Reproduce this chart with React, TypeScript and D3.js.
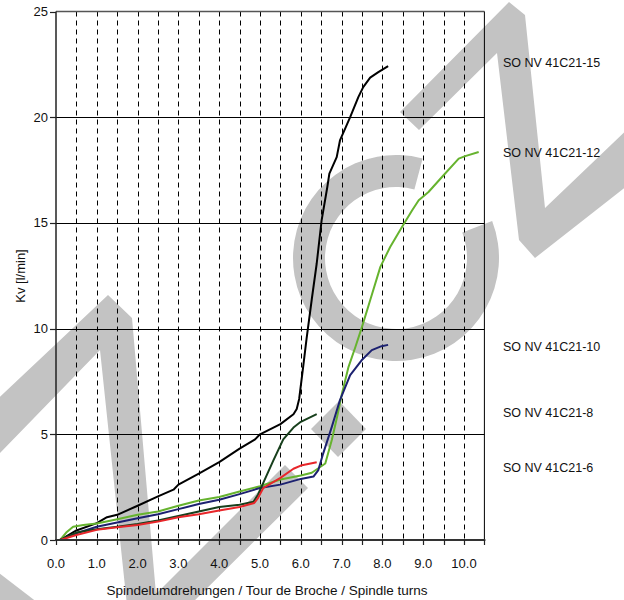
import React from "react";
import * as d3 from "d3";

type Pt = [number, number];

const seriesNames = ["SO NV 41C21-15", "SO NV 41C21-12", "SO NV 41C21-10", "SO NV 41C21-8", "SO NV 41C21-6"];
const seriesColors = ["#000000", "#66b32e", "#1c2170", "#173f1c", "#e8262a"];

const s15: Pt[] = [
  [0.1, 0], [0.5, 0.45], [1.0, 0.8], [1.25, 1.08], [1.5, 1.19], [2.0, 1.62], [2.5, 2.06], [2.88, 2.38],
  [3.0, 2.62], [3.5, 3.14], [4.0, 3.68], [4.5, 4.32], [4.88, 4.76], [5.0, 5.0], [5.5, 5.48], [5.82, 5.95],
  [5.9, 6.2], [5.96, 6.67], [6.06, 8.23], [6.14, 9.5], [6.27, 11.4], [6.39, 13.08], [6.51, 15.12],
  [6.65, 16.7], [6.7, 17.33], [6.88, 18.11], [6.96, 18.9], [7.21, 20.0], [7.41, 20.95], [7.53, 21.42],
  [7.7, 21.87], [7.9, 22.13], [8.14, 22.42],
];
const s12: Pt[] = [
  [0.1, 0], [0.25, 0.35], [0.42, 0.63], [0.67, 0.71], [1.0, 0.78], [1.5, 0.98], [2.0, 1.19], [2.5, 1.35],
  [3.0, 1.62], [3.5, 1.87], [4.0, 2.03], [4.5, 2.29], [5.0, 2.54], [5.5, 2.86], [6.0, 3.05], [6.27, 3.18],
  [6.6, 3.62], [6.76, 4.73], [6.89, 5.83], [7.01, 6.93], [7.17, 8.19], [7.34, 9.14], [7.5, 10.08],
  [7.7, 11.34], [7.95, 12.92], [8.19, 13.86], [8.48, 14.81], [8.73, 15.6], [8.89, 16.07], [9.13, 16.46],
  [9.46, 17.17], [9.87, 18.04], [10.03, 18.16], [10.36, 18.35],
];
const s10: Pt[] = [
  [0.1, 0], [0.5, 0.32], [1.0, 0.63], [1.5, 0.83], [2.0, 1.03], [2.5, 1.22], [3.0, 1.46], [3.5, 1.7],
  [4.0, 1.9], [4.5, 2.17], [5.0, 2.46], [5.5, 2.62], [6.0, 2.89], [6.31, 3.0], [6.43, 3.31], [6.55, 4.1],
  [6.76, 5.35], [6.96, 6.62], [7.21, 7.8], [7.49, 8.5], [7.74, 8.98], [7.98, 9.17], [8.14, 9.23],
];
const s8: Pt[] = [
  [0.1, 0], [0.5, 0.35], [1.0, 0.51], [1.5, 0.63], [2.0, 0.76], [2.5, 0.92], [3.0, 1.14], [3.5, 1.35],
  [4.0, 1.56], [4.5, 1.67], [4.84, 1.81], [4.95, 2.14], [5.08, 2.7], [5.32, 3.73], [5.57, 4.76],
  [5.82, 5.32], [6.0, 5.59], [6.39, 5.95],
];
const s6: Pt[] = [
  [0.1, 0], [0.5, 0.24], [1.0, 0.48], [1.5, 0.6], [2.0, 0.71], [2.5, 0.87], [3.0, 1.08], [3.5, 1.22],
  [4.0, 1.4], [4.5, 1.56], [4.86, 1.75], [4.95, 1.98], [5.08, 2.46], [5.5, 2.94], [5.82, 3.37],
  [6.0, 3.52], [6.39, 3.68],
];
const seriesData = [s15, s12, s10, s8, s6];

const xTickValues = d3.range(0, 10.01, 1);
const xMinorTicks = d3.range(0, 10.51, 0.5);
const xGrid = d3.range(0.5, 10.01, 0.5);
const yTickValues = [0, 5, 10, 15, 20, 25];

const xTitle = "Spindelumdrehungen / Tour de Broche / Spindle turns";
const yTitle = "Kv [l/min]";

// watermark decoration (pixel shapes)
const wmLeftN: Pt[] = [[-30, 425], [108, 295], [132, 318], [156, 594], [285, 465], [308, 488], [180, 615], [128, 615], [100, 350], [-30, 484]];
const wmRightN: Pt[] = [[400, 112], [509, 2], [525, 15], [545, 208], [660, 98], [660, 160], [535, 258], [519, 240], [497, 53], [419, 130]];
const wmCorner: Pt[] = [[-10, 566], [42, 606], [-10, 606]];
const wmDiamond: Pt[] = [[311, 429], [339, 401], [366, 429], [338, 457]];

const FONT = "Arial, 'Liberation Sans', Helvetica, sans-serif";

export default function App() {
  const W = 624, H = 600;
  const x = d3.scaleLinear().domain([0, 10.5]).range([56, 484.4]);
  const y = d3.scaleLinear().domain([0, 25]).range([540, 11.5]);
  const line = d3.line<Pt>().x((d) => x(d[0])).y((d) => y(d[1])).curve(d3.curveLinear);
  const poly = (pts: Pt[]) => "M" + pts.map((p) => p.join(",")).join("L") + "Z";
  const cArc = d3.arc()({ innerRadius: 71, outerRadius: 103, startAngle: (69 * Math.PI) / 180, endAngle: (375 * Math.PI) / 180 } as any) as string;
  const wm = "#c3c3c3";
  const labelY = [63, 153, 347, 413, 468];
  return (
    <svg width={W} height={H} style={{ position: "absolute", left: 0, top: 0, background: "#fff" }} fontFamily={FONT}>
      <rect x={0} y={0} width={W} height={H} fill="#fff" />
      {/* watermark */}
      <g fill={wm}>
        <path d={poly(wmLeftN)} />
        <path d={poly(wmRightN)} />
        <path d={poly(wmCorner)} />
        <path d={poly(wmDiamond)} />
        <path d={cArc} transform="translate(396,258)" />
      </g>
      {/* vertical dashed grid */}
      {xGrid.map((v) => (
        <line key={"vg" + v} x1={Math.round(x(v)) + 0.5} x2={Math.round(x(v)) + 0.5} y1={y(25)} y2={y(0)} stroke="#000" strokeWidth={1} strokeDasharray="5,4" />
      ))}
      {/* horizontal grid */}
      {yTickValues.filter((v) => v > 0 && v < 25).map((v) => (
        <line key={"hg" + v} x1={x(0)} x2={x(10.5)} y1={Math.round(y(v)) + 0.5} y2={Math.round(y(v)) + 0.5} stroke="#000" strokeWidth={1} />
      ))}
      {/* top border */}
      <line x1={x(0)} x2={x(10.5)} y1={y(25)} y2={y(25)} stroke="#555" strokeWidth={1.5} />
      {/* right border */}
      <line x1={x(10.5)} x2={x(10.5)} y1={y(25)} y2={y(0)} stroke="#000" strokeWidth={1} />
      {/* series */}
      {seriesData.map((s, i) => (
        <path key={"s" + i} d={line(s) as string} fill="none" stroke={seriesColors[i]} strokeWidth={2} strokeLinejoin="round" />
      ))}
      {/* left axis */}
      <line x1={x(0)} x2={x(0)} y1={y(25)} y2={y(0)} stroke="#222" strokeWidth={1.5} />
      {yTickValues.map((v) => (
        <g key={"yt" + v}>
          <line x1={x(0) - 6} x2={x(0)} y1={Math.round(y(v)) + 0.5} y2={Math.round(y(v)) + 0.5} stroke="#222" strokeWidth={1.2} />
          <text x={48} y={y(v)} dy="0.35em" textAnchor="end" fontSize={13} fill="#111">{v}</text>
        </g>
      ))}
      {/* bottom axis */}
      <line x1={x(0) - 1} x2={x(10.5) + 1} y1={y(0)} y2={y(0)} stroke="#333" strokeWidth={2} />
      {xMinorTicks.map((v) => (
        <line key={"xt" + v} x1={Math.round(x(v)) + 0.5} x2={Math.round(x(v)) + 0.5} y1={y(0)} y2={y(0) + 5} stroke="#222" strokeWidth={1.2} />
      ))}
      {xTickValues.map((v) => (
        <text key={"xl" + v} x={x(v)} y={567.5} textAnchor="middle" fontSize={13} fill="#111">{d3.format(".1f")(v)}</text>
      ))}
      <text x={267} y={594.5} textAnchor="middle" fontSize={13.5} fill="#111">{xTitle}</text>
      <text transform={`translate(24.5,276) rotate(-90)`} textAnchor="middle" fontSize={13} fill="#111">{yTitle}</text>
      {/* series labels */}
      {seriesNames.map((n, i) => (
        <text key={"lab" + i} x={503} y={labelY[i]} dy="0.35em" fontSize={12.5} fill="#111">{n}</text>
      ))}
    </svg>
  );
}
